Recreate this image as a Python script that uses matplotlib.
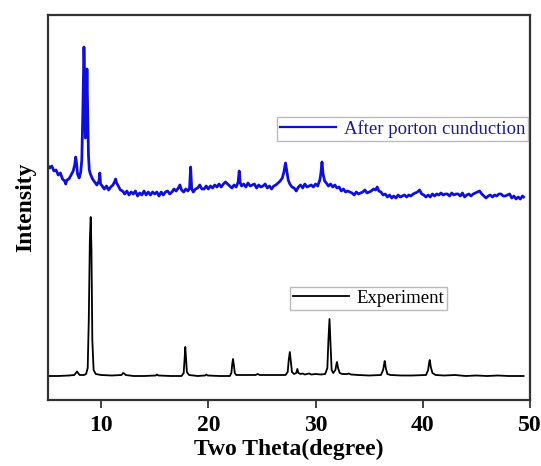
import matplotlib
matplotlib.use("Agg")
import matplotlib.pyplot as plt

# After proton conduction (blue)
blue_x = [5.0, 5.2, 5.4, 5.6, 5.8, 6.0, 6.2, 6.4, 6.6, 6.7, 6.8, 7.0, 7.2, 7.4, 7.55, 7.63, 7.72, 7.8, 7.95, 8.1,
          8.2, 8.3, 8.4, 8.47, 8.53, 8.6, 8.68, 8.75, 8.82, 8.9, 9.0, 9.2, 9.4, 9.6, 9.8, 9.88, 9.95, 10.1, 10.3, 10.5,
          10.7, 10.9, 11.1, 11.25, 11.35, 11.45, 11.6, 11.8, 12.0, 12.2, 12.4, 12.6, 12.8, 13.0, 13.2, 13.4, 13.6, 13.8,
          14.0, 14.2, 14.4, 14.6, 14.8, 15.0, 15.2, 15.4, 15.6, 15.8, 16.0, 16.2, 16.4, 16.6, 16.8, 17.0, 17.2, 17.35,
          17.5, 17.7, 17.9, 18.1, 18.25, 18.35, 18.45, 18.6, 18.8, 19.0, 19.2, 19.4, 19.6, 19.8, 20.0, 20.2, 20.4, 20.6,
          20.8, 21.0, 21.2, 21.4, 21.6, 21.8, 22.0, 22.2, 22.4, 22.6, 22.78, 22.88, 22.98, 23.1, 23.3, 23.5, 23.7, 23.9,
          24.1, 24.3, 24.5, 24.7, 24.9, 25.1, 25.3, 25.5, 25.7, 25.9, 26.1, 26.3, 26.5, 26.7, 26.9, 27.05, 27.2, 27.3,
          27.45, 27.6, 27.8, 28.0, 28.2, 28.4, 28.6, 28.8, 29.0, 29.2, 29.4, 29.6, 29.8, 30.0, 30.2, 30.4, 30.5, 30.6,
          30.7, 30.85, 31.0, 31.2, 31.4, 31.6, 31.8, 32.0, 32.2, 32.4, 32.6, 32.8, 33.0, 33.2, 33.4, 33.6, 33.8, 34.0,
          34.2, 34.4, 34.6, 34.8, 35.0, 35.2, 35.4, 35.6, 35.75, 35.9, 36.1, 36.3, 36.5, 36.7, 36.9, 37.1, 37.3, 37.5,
          37.7, 37.9, 38.1, 38.3, 38.5, 38.7, 38.9, 39.1, 39.3, 39.5, 39.7, 39.9, 40.1, 40.3, 40.5, 40.7, 40.9, 41.1,
          41.3, 41.5, 41.7, 41.9, 42.1, 42.3, 42.5, 42.7, 42.9, 43.1, 43.3, 43.5, 43.7, 43.9, 44.1, 44.3, 44.5, 44.7,
          44.9, 45.1, 45.3, 45.5, 45.7, 45.9, 46.1, 46.3, 46.5, 46.7, 46.9, 47.1, 47.3, 47.5, 47.7, 47.9, 48.1, 48.3,
          48.5, 48.7, 48.9, 49.1, 49.3, 49.4]
blue_y = [235, 232, 234, 229, 230, 225, 227, 221, 219, 216, 220, 221, 225, 229, 236, 243, 236, 226, 222, 228,
          240, 290, 353, 320, 262, 280, 331, 290, 245, 230, 226, 221, 218, 215, 219, 227, 216, 214, 211, 214,
          210, 213, 215, 218, 221, 217, 214, 210, 209, 206, 209, 205, 208, 206, 209, 204, 207, 205,
          209, 205, 208, 205, 208, 206, 208, 204, 208, 205, 208, 209, 206, 208, 211, 209, 212, 215,
          210, 208, 211, 209, 212, 233, 211, 208, 211, 212, 215, 211, 211, 214, 211, 214, 212, 215,
          213, 216, 213, 216, 218, 216, 214, 212, 215, 213, 218, 229, 217, 214, 216, 213, 217, 214,
          215, 216, 212, 215, 213, 214, 216, 212, 214, 211, 214, 215, 217, 219, 222, 228, 237, 230,
          220, 216, 213, 212, 209, 213, 215, 212, 216, 213, 214, 215, 213, 216, 214, 220, 227, 238,
          226, 219, 217, 214, 216, 213, 215, 212, 213, 209, 211, 208, 209, 208, 207, 205, 208, 206,
          207, 208, 210, 207, 208, 209, 211, 210, 213, 209, 208, 205, 206, 203, 205, 202, 204, 202,
          205, 203, 204, 205, 203, 205, 204, 206, 207, 208, 210, 206, 205, 203, 205, 203, 206, 204,
          206, 205, 207, 205, 206, 206, 204, 207, 205, 206, 206, 204, 207, 203, 205, 206, 204, 206,
          207, 208, 209, 206, 204, 202, 204, 205, 203, 205, 204, 206, 206, 204, 204, 205, 206, 202,
          204, 201, 203, 201, 204, 203]

# Experiment (black)
black_x = [5.0, 6.0, 7.0, 7.5, 7.65, 7.75, 7.85, 8.0, 8.4, 8.6, 8.75, 8.85, 8.95, 9.03, 9.1, 9.18, 9.3, 9.5, 10.0,
           11.0, 11.9, 12.05, 12.15, 12.3, 13.0, 14.0, 15.1, 15.2, 15.35, 16.5, 17.5, 17.7, 17.78, 17.85, 17.93,
           18.0, 18.2, 19.0, 19.7, 19.8, 19.95, 21.0, 22.0, 22.15, 22.23, 22.3, 22.38, 22.47, 22.6, 23.5, 24.4,
           24.6, 24.8, 26.0, 27.2, 27.4, 27.5, 27.6, 27.7, 27.8, 28.0, 28.2, 28.3, 28.4, 28.6, 28.8, 29.0, 29.4,
           29.6, 30.0, 30.5, 30.9, 31.1, 31.2, 31.3, 31.4, 31.5, 31.65, 31.85, 31.95, 32.0, 32.1, 32.25, 32.5,
           33.0, 33.1, 33.3, 34.0, 35.0, 36.1, 36.3, 36.4, 36.45, 36.55, 36.7, 37.0, 38.0, 39.0, 40.3, 40.5,
           40.6, 40.65, 40.75, 40.9, 41.2, 42.0, 43.0, 44.0, 45.0, 46.0, 47.0, 48.0, 49.0, 49.4]
black_y = [24, 24, 24.5, 25, 27, 28.5, 27, 25, 25, 26, 32, 80, 160, 183, 150, 60, 30, 26, 25,
           24.5, 25, 27, 26.5, 25, 24, 24, 24.5, 25.5, 24.5, 24, 24, 27, 40, 53, 40,
           28, 25, 24, 24.5, 25.5, 24.5, 24, 24, 27, 36, 41, 35, 27, 25, 25, 25,
           26, 25, 25, 25, 28, 40, 48, 38, 28, 26, 27, 31, 27, 26, 26.5, 25.5, 26.5,
           25.5, 26, 25.5, 26, 32, 60, 81, 55, 30, 27, 30, 36, 38, 32, 27, 26,
           26, 26.5, 25.5, 25, 24.5, 25, 30, 36, 39, 32, 26, 25, 24.5, 24.5, 25, 30,
           38, 40, 33, 27, 25, 24.5, 25, 24, 24.5, 24, 24.5, 24, 24, 24]

x_ticks = [10, 20, 30, 40, 50]
blue_label = "After porton cunduction"
black_label = "Experiment"
x_label = "Two Theta(degree)"
y_label = "Intensity"

plt.rcParams['font.family'] = ['Liberation Serif', 'DejaVu Serif']

fig = plt.figure(figsize=(5.41, 4.66), dpi=100)
ax = fig.add_axes([47.5 / 541, 66 / 466, 482.5 / 541, 385 / 466])

l_blue, = ax.plot(blue_x, blue_y, color='#0f0fdc', lw=2.0)
l_black, = ax.plot(black_x, black_y, color='black', lw=1.3)

ax.set_xlim(5, 50)
ax.set_ylim(0, 385)
ax.set_xticks(x_ticks)
ax.set_yticks([])
ax.tick_params(axis='x', direction='out', length=6, width=1.2, colors='#222222', labelsize=17, pad=5)
for lab in ax.get_xticklabels():
    lab.set_fontweight('bold')
    lab.set_color('black')
for sp in ax.spines.values():
    sp.set_linewidth(1.6)
    sp.set_color('#333333')

ax.set_xlabel(x_label, fontsize=17, fontweight='bold', labelpad=2)
ax.set_ylabel(y_label, fontsize=17, fontweight='bold', labelpad=8)

leg1 = ax.legend([l_blue], [blue_label], loc='upper left',
                 bbox_to_anchor=((277 - 47.5) / 482.5, (400 - 117) / 385),
                 borderaxespad=0, fancybox=False, frameon=True, edgecolor='#aaaaaa',
                 fontsize=13.5, handlelength=3.0, handletextpad=0.4, borderpad=0.15,
                 labelcolor='#1c1c8a')
leg1.get_frame().set_linewidth(1.0)
leg1.get_lines()[0].set_linewidth(1.6)
ax.add_artist(leg1)
leg2 = ax.legend([l_black], [black_label], loc='upper left',
                 bbox_to_anchor=((290 - 47.5) / 482.5, (400 - 287) / 385),
                 borderaxespad=0, fancybox=False, frameon=True, edgecolor='#aaaaaa',
                 fontsize=13.5, handlelength=3.0, handletextpad=0.4, borderpad=0.15)
leg2.get_frame().set_linewidth(1.0)

fig.savefig('out.png', dpi=100)
